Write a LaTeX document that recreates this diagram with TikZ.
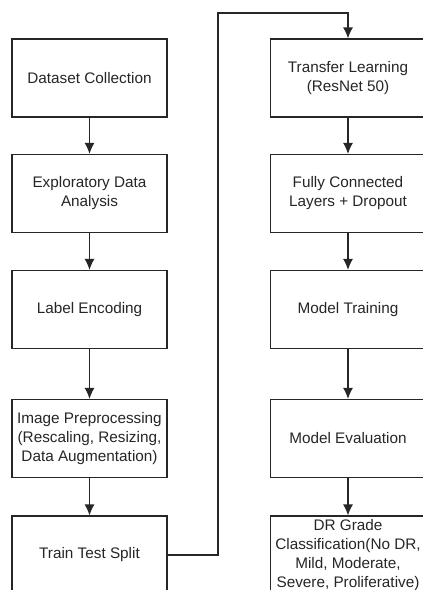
\documentclass[tikz,border=0pt]{standalone}
\usepackage{fontspec}
\setmainfont{Liberation Sans}
\usetikzlibrary{arrows.meta}
\definecolor{ink}{HTML}{262626}
\begin{document}
\begin{tikzpicture}[x=1pt,y=1pt,
  box/.style={draw=ink, line width=1.2pt, minimum width=155pt, minimum height=78pt, inner sep=1pt,
    align=center, text=ink, font=\fontsize{15.3}{19}\selectfont},
  flow/.style={draw=ink, fill=ink, line width=1.2pt, -{Latex[length=11pt,width=10pt]}}]
\fill[white] (0,0) rectangle (423,-590);
\node[box] (a) at (89.5,-78) {Dataset Collection};
\node[box] (b) at (89.5,-193.5) {Exploratory Data\\Analysis};
\node[box] (c) at (89.5,-309.5) {Label Encoding};
\node[box] (d) at (89.5,-438.5) {Image Preprocessing\\(Rescaling, Resizing,\\Data Augmentation)};
\node[box] (e) at (89.5,-555) {Train Test Split};
\node[box] (f) at (348,-78) {Transfer Learning\\(ResNet 50)};
\node[box] (g) at (348,-193.5) {Fully Connected\\Layers + Dropout};
\node[box] (h) at (348,-309.5) {Model Training};
\node[box] (i) at (348,-438.5) {Model Evaluation};
\node[box] (j) at (348,-555) {DR Grade\\Classification(No DR,\\Mild, Moderate,\\Severe, Proliferative)};
\draw[flow] (a.south) -- (b.north);
\draw[flow] (b.south) -- (c.north);
\draw[flow] (c.south) -- (d.north);
\draw[flow] (d.south) -- (e.north);
\draw[flow] (f.south) -- (g.north);
\draw[flow] (g.south) -- (h.north);
\draw[flow] (h.south) -- (i.north);
\draw[flow] (i.south) -- (j.north);
\coordinate (t1) at (218,-13);
\draw[flow, fill=none] (e.east) -| (t1) -| (f.north);
\pgfresetboundingbox
\useasboundingbox (0,0) rectangle (423,-590);
\end{tikzpicture}
\end{document}
